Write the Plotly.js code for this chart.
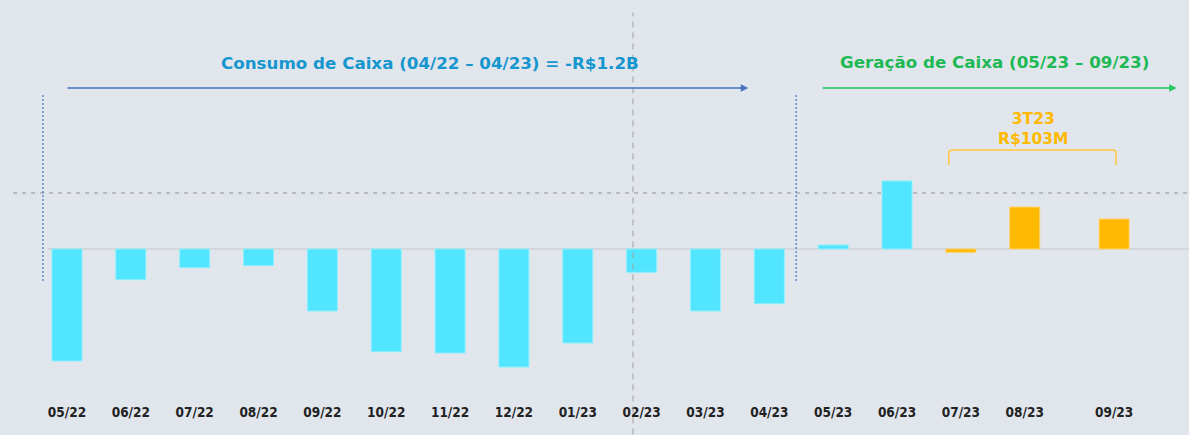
<!DOCTYPE html>
<html>
<head>
<meta charset="utf-8">
<script src="https://cdn.plot.ly/plotly-3.0.1.min.js"></script>
<style>html,body{margin:0;padding:0;background:#E1E6ED;}#chart{width:1189px;height:435px;}</style>
</head>
<body>
<div id="chart"></div>
<script>
// Monthly cash flow (R$ million)
const categories = ['05/22','06/22','07/22','08/22','09/22','10/22','11/22','12/22','01/23','02/23','03/23','04/23','05/23','06/23','07/23','08/23','09/23'];
const cashFlow   = [-168, -46, -28, -25, -93, -154, -156, -177, -141, -35, -93, -82, 6, 102, -5, 63, 45];
const quarterMonths = ['07/23','08/23','09/23'];
const consumoLabel = 'Consumo de Caixa (04/22 – 04/23) = -R$1.2B';
const geracaoLabel = 'Geração de Caixa (05/23 – 09/23)';
const quarterLabel = '3T23<br>R$103M';

const CYAN = '#52E5FF', ORANGE = '#FFB900', BLUE = '#4472C4', GREEN = '#22C55E';
const FONT = 'DejaVu Sans, sans-serif';
const TICKFONT = 'DejaVu Sans Condensed, DejaVu Sans, sans-serif';

// horizontal placement: last month sits a bit further right
const xPos = categories.map((c, i) => i + (c === '09/23' ? 0.4 : 0));
const colors = categories.map(c => quarterMonths.includes(c) ? ORANGE : CYAN);
const lineColors = categories.map(c => quarterMonths.includes(c) ? '#FFD36B' : '#8EEFFF');

const trace = {
  type: 'bar', x: xPos, y: cashFlow, width: 0.47,
  marker: {color: colors, line: {color: lineColors, width: 1}},
  hoverinfo: 'skip'
};

const layout = {
  width: 1189, height: 435,
  margin: {l: 0, r: 0, t: 20, b: 45},
  paper_bgcolor: '#E1E6ED', plot_bgcolor: '#E1E6ED',
  showlegend: false,
  xaxis: {
    range: [-1.049, 17.573], tickmode: 'array', tickvals: xPos, ticktext: categories,
    showgrid: false, zeroline: false, showline: false, ticks: '', ticklabelstandoff: 12,
    tickfont: {family: TICKFONT, size: 13.5, color: '#222222', weight: 'bold'}
  },
  yaxis: {range: [-211.5, 343.5], visible: false, zeroline: false, showgrid: false},
  shapes: [
    // zero line
    {type: 'line', xref: 'x', yref: 'y', x0: -0.31, x1: 17.573, y0: 0, y1: 0, line: {color: '#D3D6DA', width: 2}, layer: 'below'},
    // dashed horizontal reference
    {type: 'line', xref: 'paper', yref: 'y', x0: 0.011, x1: 1, y0: 84, y1: 84, line: {color: '#8F8F8F', width: 1, dash: '4px,5px'}, layer: 'below'},
    // dashed vertical grey
    {type: 'line', xref: 'x', yref: 'paper', x0: 8.865, x1: 8.865, y0: -0.12, y1: 1.02, line: {color: '#A0A0A0', width: 1, dash: '6px,5px'}, layer: 'above'},
    // dotted blue separators
    {type: 'line', xref: 'x', yref: 'y', x0: -0.376, x1: -0.376, y0: 231, y1: -49.5, line: {color: BLUE, width: 1.2, dash: '2px,2px'}},
    {type: 'line', xref: 'x', yref: 'y', x0: 11.42, x1: 11.42, y0: 231, y1: -49.5, line: {color: BLUE, width: 1.2, dash: '2px,2px'}},
    // orange bracket
    {type: 'path', xref: 'x', yref: 'y',
     path: 'M 13.81,126 L 13.81,144 Q 13.81,148.5 13.87,148.5 L 16.37,148.5 Q 16.43,148.5 16.43,144 L 16.43,126',
     line: {color: '#FFC83D', width: 1.5}}
  ],
  annotations: [
    {xref: 'x', yref: 'y', axref: 'x', ayref: 'y', x: 10.67, y: 241.5, ax: -0.016, ay: 241.5,
     showarrow: true, arrowhead: 2, arrowsize: 1, arrowwidth: 1.5, arrowcolor: BLUE, text: ''},
    {xref: 'x', yref: 'y', axref: 'x', ayref: 'y', x: 17.38, y: 241.5, ax: 11.81, ay: 241.5,
     showarrow: true, arrowhead: 2, arrowsize: 1, arrowwidth: 1.5, arrowcolor: GREEN, text: ''},
    {xref: 'x', yref: 'y', x: 5.685, y: 279, text: consumoLabel, showarrow: false,
     font: {family: FONT, size: 16.7, color: '#1596CE', weight: 'bold'}},
    {xref: 'x', yref: 'y', x: 14.53, y: 280.5, text: geracaoLabel, showarrow: false,
     font: {family: FONT, size: 16.7, color: '#1DB954', weight: 'bold'}},
    {xref: 'x', yref: 'y', x: 15.13, y: 180, text: quarterLabel, showarrow: false,
     font: {family: FONT, size: 15.5, color: ORANGE, weight: 'bold'}}
  ]
};

Plotly.newPlot('chart', [trace], layout, {staticPlot: true, displayModeBar: false});
</script>
</body>
</html>
